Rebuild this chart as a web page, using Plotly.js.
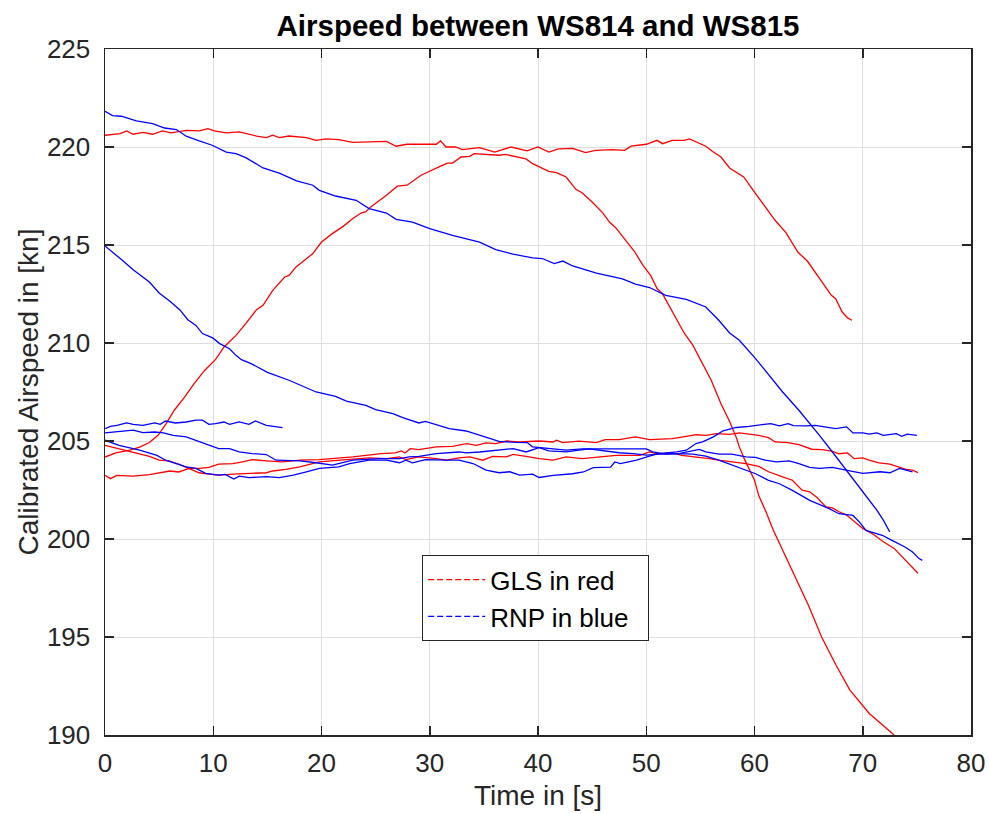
<!DOCTYPE html>
<html>
<head>
<meta charset="utf-8">
<script src="https://cdn.plot.ly/plotly-3.0.1.min.js"></script>
<style>html,body{margin:0;padding:0;background:#fff;}#chart{width:989px;height:814px;}</style>
</head>
<body>
<div id="chart"></div>
<script>
// GLS (red) runs
const R1_t = [0,1.4,2.0,2.6,3.5,4.4,5.3,6.1,7.5,8.7,9.5,10.1,11.2,12.4,14.0,14.9,15.5,16.1,17.0,18.6,19.5,20.4,21.6,22.9,26.0,26.9,27.9,30.6,31.0,31.5,32.4,33.0,34.6,36.0,37.5,39.0,40.0,41.0,41.9,43.2,44.4,45.3,46.9,48.0,48.6,50.0,51.0,51.5,52.4,53.5,54.0,55.5,56.1,56.9,57.7,59.0,60.1,61.0,61.9,62.9,64.0,64.9,66.0,67.1,67.5,68.1,68.6,69.0];
const R1_v = [220.6,220.68,220.82,220.65,220.75,220.65,220.82,220.72,220.85,220.82,220.94,220.82,220.72,220.77,220.56,220.48,220.6,220.48,220.56,220.48,220.34,220.41,220.38,220.24,220.29,220.04,220.14,220.14,220.31,220.0,220.0,219.87,219.97,219.74,220.0,219.8,220.0,219.74,219.9,219.93,219.71,219.83,219.87,219.83,220.04,220.14,220.34,220.17,220.34,220.34,220.41,220.04,219.78,219.49,218.93,218.47,217.62,216.94,216.26,215.63,214.64,214.17,213.29,212.43,212.26,211.58,211.28,211.16];

const R2_t = [0,1.0,2.3,3.2,4.1,4.9,5.65,6.4,7.3,8.2,9.2,10.2,11.0,12.1,13.0,14.0,14.6,15.5,16.6,17.0,17.65,18.6,19.2,20.0,21.0,22.0,22.9,23.65,24.1,24.6,26.0,27.0,27.9,29.2,30.1,31.0,31.65,32.1,32.9,33.7,34.1,35.2,36.4,37.0,38.0,38.9,39.5,40.4,41.0,41.7,42.6,43.5,44.1,45.0,46.0,46.6,47.2,48.1,48.9,49.7,50.4,51.0,51.5,52.0,52.7,53.5,54.3,55.0,56.0,56.9,57.7,58.3,58.6,59.05,60.0,60.4,61.05,61.7,62.6,63.5,64.3,65.0,66.2,67.5,68.8,70.6,72.9];
const R2_v = [204.18,204.39,204.53,204.69,204.92,205.29,205.89,206.57,207.2,207.9,208.6,209.15,209.8,210.39,210.99,211.7,211.92,212.69,213.37,213.45,213.88,214.31,214.56,215.15,215.58,215.95,216.35,216.63,216.7,216.97,217.54,218.0,218.05,218.56,218.81,219.02,219.18,219.18,219.49,219.52,219.66,219.63,219.58,219.62,219.49,219.39,219.15,218.93,218.76,218.69,218.47,217.84,217.65,217.19,216.63,216.17,215.87,215.24,214.68,213.96,213.45,212.78,212.52,212.01,211.33,210.51,209.89,209.12,208.1,206.9,206.0,205.2,204.7,204.1,203.0,202.2,201.4,200.5,199.45,198.4,197.4,196.6,195.0,193.6,192.3,191.1,190.0];

const R3_t = [0,0.5,1.1,2.6,4.1,5.6,6.0,6.8,7.8,8.7,9.6,10.5,11.8,12.7,13.6,14.9,16.4,18.0,19.8,22.9,25.5,26.8,27.4,27.7,28.2,29.0,30.6,32.1,33.4,34.3,35.2,36.1,37.1,38.3,40.1,41.4,41.7,42.3,43.8,45.4,46.2,47.5,49.0,50.3,52.4,53.7,54.6,55.5,56.5,57.7,58.6,60.4,61.3,61.9,63.1,64.1,65.3,66.3,67.2,67.8,68.6,69.2,70.0,70.6,71.5,72.5,73.4,74.0,74.6,75.1];
const R3_v = [203.25,203.08,203.25,203.21,203.28,203.42,203.47,203.42,203.6,203.6,203.65,203.82,203.85,203.93,204.05,203.99,203.93,204.02,204.05,204.19,204.36,204.39,204.49,204.39,204.61,204.56,204.7,204.73,204.87,204.78,204.9,204.87,205.0,204.95,205.0,204.95,205.04,204.92,204.99,204.92,205.07,205.07,205.21,205.07,205.12,205.24,205.32,205.29,205.38,205.34,205.41,205.29,205.17,204.95,204.92,204.82,204.58,204.56,204.47,204.35,204.39,204.1,204.14,204.02,203.88,203.82,203.65,203.55,203.51,203.39];

const R4_t = [0,1.3,2.6,4.1,5.0,5.9,6.8,7.8,8.7,9.6,10.5,11.8,13.3,14.9,15.5,16.7,18.0,19.2,19.8,22.3,24.4,26.0,27.2,27.8,29.0,30.6,31.5,32.7,33.7,34.9,35.8,37.1,37.7,38.9,40.1,41.4,42.6,44.1,45.7,47.2,49.4,50.3,50.9,52.4,53.3,54.6,55.8,56.7,58.0,59.2,60.4,61.3,62.6,63.5,64.4,65.1,65.8,66.6,67.2,67.8,68.5,69.1,70.0,71.0,71.9,72.9,73.8,74.4,75.1];
const R4_v = [204.78,204.61,204.44,204.22,204.02,203.99,203.82,203.6,203.38,203.31,203.26,203.31,203.35,203.38,203.47,203.55,203.68,203.85,203.93,204.05,204.14,204.1,204.19,204.05,204.19,204.1,204.02,204.14,204.19,204.02,204.22,204.19,204.32,204.22,204.1,204.02,204.19,204.1,204.19,204.27,204.27,204.44,204.36,204.39,204.27,204.19,204.1,204.02,203.93,203.85,203.7,203.43,203.17,203.0,202.49,202.41,202.1,201.64,201.59,201.39,201.22,200.96,200.54,200.23,199.86,199.52,199.01,198.67,198.25];

// RNP (blue) runs
const B1_t = [0,0.7,1.5,2.9,4.4,5.5,6.6,7.5,8.7,9.9,11.2,12.1,13.0,14.6,16.1,17.7,19.2,19.8,21.3,23.2,24.4,26.0,26.9,28.4,30.0,32.1,34.6,36.1,37.7,39.5,40.4,41.5,42.3,43.2,45.4,47.8,49.0,50.3,51.8,53.7,55.5,56.7,57.7,58.6,60.1,61.7,62.6,64.1,65.0,66.0,67.2,68.5,69.4,70.3,71.3,71.9,72.5];
const B1_v = [221.82,221.6,221.57,221.33,221.19,220.97,220.89,220.55,220.31,220.09,219.74,219.66,219.46,218.93,218.67,218.27,218.05,217.79,217.5,217.28,216.86,216.63,216.31,216.17,215.84,215.49,215.15,214.76,214.53,214.34,214.31,214.05,214.18,213.93,213.57,213.27,213.0,212.83,212.43,212.23,211.84,211.16,210.51,210.14,209.2,208.1,207.5,206.57,205.98,205.29,204.44,203.51,202.83,202.24,201.47,200.96,200.36];

const B2_t = [0,0.7,1.6,2.6,3.5,4.1,5.0,6.0,6.9,7.65,8.4,9.0,9.95,10.6,11.5,12.1,12.6,13.5,15.0,16.0,17.0,19.5,21.3,22.3,24.1,25.0,26.6,27.5,29.0,29.6,31.8,33.35,35.2,36.4,37.9,39.0,39.5,41.0,42.6,44.1,45.7,47.2,50.0,50.6,51.8,53.0,54.9,55.5,56.7,57.9,59.2,60.1,61.0,62.0,63.2,64.1,65.1,66.0,67.2,68.8,70.0,71.6,72.5,73.4,74.6];
const B2_v = [214.95,214.64,214.22,213.74,213.34,213.11,212.55,212.13,211.7,211.19,210.9,210.48,210.26,209.97,209.71,209.37,209.15,208.95,208.5,208.3,208.1,207.5,207.28,207.04,206.82,206.6,206.4,206.19,205.92,206.0,205.63,205.51,205.17,204.98,204.93,204.92,204.7,204.6,204.53,204.6,204.6,204.6,204.6,204.45,204.33,204.36,204.57,204.45,204.33,204.33,204.19,204.16,204.02,203.94,203.99,203.85,203.65,203.6,203.65,203.48,203.35,203.43,203.38,203.6,203.43];

const B3_t = [0,0.5,1.1,2.0,2.6,3.5,4.6,5.1,5.6,6.5,7.5,8.4,9.0,9.6,10.2,11.0,11.5,12.4,13.3,13.9,14.9,16.4];
const B3_v = [205.63,205.75,205.8,205.92,205.85,205.8,205.92,205.85,206.02,205.92,205.97,206.06,206.06,205.85,205.89,205.97,205.85,205.97,205.85,206.02,205.8,205.68];

const B4_t = [0,1.0,2.6,3.5,4.6,5.4,6.3,7.5,8.4,9.3,10.5,11.5,12.4,13.6,14.9,15.8,18.0,19.5,21.0,22.9,25.4,27.2,28.1,29.0,30.6,32.7,33.4,34.6,36.7,37.7,38.9,40.1,41.0,42.6,44.7,45.7,47.5,48.8,50.0,51.2,53.0,54.3,55.5,56.7,57.9,59.2,60.1,61.3,62.3,63.5,65.1,66.9,67.8,69.1,69.7,70.3,71.8,72.7,73.9,74.6,75.2,75.5];
const B4_v = [205.41,205.46,205.55,205.43,205.46,205.41,205.29,205.21,205.04,204.87,204.61,204.61,204.44,204.36,204.31,204.02,203.99,203.89,203.77,204.02,204.1,204.1,204.19,204.22,204.36,204.44,204.39,204.44,204.56,204.61,204.44,204.66,204.5,204.45,204.6,204.53,204.4,204.36,204.28,204.33,204.36,204.33,204.23,204.02,203.77,203.5,203.33,202.99,202.82,202.48,201.97,201.55,201.29,201.2,200.86,200.44,200.19,199.93,199.59,199.34,199.0,198.91];

const B5_t = [0,1.3,3.2,4.8,5.6,6.5,7.5,8.4,9.3,10.5,11.1,11.9,12.4,13.3,14.9,16.1,17.4,18.6,19.8,21.6,22.6,24.4,26.0,27.2,27.8,28.4,29.6,31.5,32.7,34.0,35.2,36.4,37.4,38.3,39.5,40.1,41.4,43.2,44.2,45.1,46.7,47.1,47.6,49.1,50.0,50.9,51.9,52.8,53.7,54.6,55.2,56.2,57.1,58.3,59.5,60.4,61.5,62.3,63.1,63.6,64.7,65.6,66.6,67.5,68.5,69.1,70.0,70.6,71.3,71.9,73.1,73.6,74.1,75.0];
const B5_v = [205.04,204.78,204.53,204.27,204.02,203.85,203.68,203.6,203.35,203.26,203.3,203.06,203.21,203.13,203.18,203.13,203.26,203.43,203.6,203.68,203.85,204.02,204.02,203.89,204.02,203.89,204.05,204.02,204.02,203.85,203.51,203.38,203.43,203.26,203.31,203.14,203.25,203.33,203.42,203.64,203.67,203.93,203.85,204.02,204.19,204.33,204.39,204.44,204.53,204.87,204.96,205.21,205.52,205.69,205.75,205.8,205.89,205.77,205.89,205.78,205.77,205.8,205.72,205.63,205.72,205.41,205.41,205.35,205.41,205.29,205.38,205.24,205.35,205.29];

const redRuns = [[R1_t,R1_v],[R2_t,R2_v],[R3_t,R3_v],[R4_t,R4_v]];
const blueRuns = [[B1_t,B1_v],[B2_t,B2_v],[B3_t,B3_v],[B4_t,B4_v],[B5_t,B5_v]];

const xTicks = [0,10,20,30,40,50,60,70,80];
const yTicks = [190,195,200,205,210,215,220,225];
const legendNames = ['GLS in red','RNP in blue'];

const RED = '#ff0000', BLUE = '#0000ff', AX = '#262626';
const FONT = 'Liberation Sans, Arial, sans-serif';

const traces = [];
redRuns.forEach(r => traces.push({x:r[0], y:r[1], mode:'lines', line:{color:RED, width:1.3}, showlegend:false, hoverinfo:'skip'}));
blueRuns.forEach(r => traces.push({x:r[0], y:r[1], mode:'lines', line:{color:BLUE, width:1.3}, showlegend:false, hoverinfo:'skip'}));
traces.push({x:[null], y:[null], mode:'lines', name:legendNames[0] + '\u00a0\u00a0', line:{color:RED, width:1.3, dash:'6px,3px'}, showlegend:true});
traces.push({x:[null], y:[null], mode:'lines', name:legendNames[1] + '\u00a0\u00a0', line:{color:BLUE, width:1.3, dash:'6px,3px'}, showlegend:true});

const axisCommon = {
  showgrid:true, gridcolor:'#dedede', gridwidth:1,
  zeroline:false, showline:true, linecolor:AX, linewidth:1.5, mirror:'allticks',
  ticks:'inside', ticklen:9, tickwidth:1.5, tickcolor:AX,
  tickfont:{family:FONT, size:26, color:AX}, automargin:false
};

const layout = {
  width:989, height:814,
  margin:{l:105, r:18, t:49, b:79},
  paper_bgcolor:'#ffffff', plot_bgcolor:'#ffffff',
  title:{text:'<b>Airspeed between WS814 and WS815</b>', font:{family:FONT, size:29.5, color:'#000'}, x:0.5, xref:'paper', xanchor:'center', y:0.969, yref:'container', yanchor:'middle'},
  xaxis:Object.assign({}, axisCommon, {range:[0,80], tickvals:xTicks, ticklabelstandoff:4,
    title:{text:'Time in [s]', font:{family:FONT, size:28, color:AX}, standoff:8}}),
  yaxis:Object.assign({}, axisCommon, {range:[190,225], tickvals:yTicks, ticklabelstandoff:8,
    title:{text:'Calibrated Airspeed in [kn]', font:{family:FONT, size:28, color:AX}, standoff:0}}),
  showlegend:true,
  legend:{x:0.3663, y:0.262, xanchor:'left', yanchor:'top', bgcolor:'#ffffff', bordercolor:AX, borderwidth:1,
    font:{family:FONT, size:26, color:'#000'}, tracegroupgap:0, itemwidth:57}
};

Plotly.newPlot('chart', traces, layout, {displayModeBar:false, staticPlot:true});
</script>
</body>
</html>
